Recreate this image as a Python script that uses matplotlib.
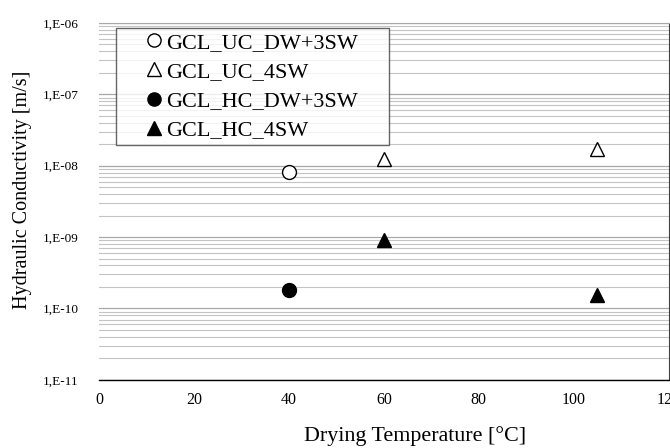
import numpy as np
import matplotlib.pyplot as plt
from matplotlib.ticker import LogLocator, FixedLocator, FuncFormatter, NullFormatter

plt.rcParams['font.family'] = ['Liberation Serif', 'DejaVu Serif']

# datos
temp_uc_dw = [40]
k_uc_dw = [8.2e-9]
temp_uc_4sw = [60, 105]
k_uc_4sw = [1.25e-8, 1.7e-8]
temp_hc_dw = [40]
k_hc_dw = [1.8e-10]
temp_hc_4sw = [60, 105]
k_hc_4sw = [9.0e-10, 1.55e-10]

fig = plt.figure(figsize=(6.7, 4.48), dpi=100)
ax = fig.add_axes([0.148, 0.152, 0.850, 0.797])

ax.plot(temp_uc_dw, k_uc_dw, 'o', ms=10, mfc='white', mec='black', mew=1.0,
        label='GCL_UC_DW+3SW', zorder=5)
ax.plot(temp_uc_4sw, k_uc_4sw, '^', ms=10, mfc='white', mec='black', mew=1.0,
        label='GCL_UC_4SW', zorder=5)
ax.plot(temp_hc_dw, k_hc_dw, 'o', ms=10, mfc='black', mec='black',
        label='GCL_HC_DW+3SW', zorder=5)
ax.plot(temp_hc_4sw, k_hc_4sw, '^', ms=10, mfc='black', mec='black',
        label='GCL_HC_4SW', zorder=5)

ax.set_yscale('log')
ax.set_ylim(1e-11, 1e-6)
ax.set_xlim(0, 120)
ax.xaxis.set_major_locator(FixedLocator([0, 20, 40, 60, 80, 100, 120]))
ax.yaxis.set_major_locator(LogLocator(base=10, numticks=10))
ax.yaxis.set_minor_locator(LogLocator(base=10, subs=np.arange(2, 10), numticks=10))
ax.yaxis.set_minor_formatter(NullFormatter())


def fmt_exp(v, pos):
    e = int(round(np.log10(v)))
    return '1,E-%02d' % abs(e)


ax.yaxis.set_major_formatter(FuncFormatter(fmt_exp))
ax.tick_params(axis='both', which='both', length=0)
ax.tick_params(axis='x', labelsize=11.5, pad=9)
ax.tick_params(axis='y', labelsize=9.5, pad=15)

ax.grid(True, axis='y', which='major', color='#a8a8a8', lw=0.9)
ax.grid(True, axis='y', which='minor', color='#c4c4c4', lw=0.8)
ax.set_axisbelow(True)

ax.spines['left'].set_visible(False)
ax.spines['top'].set_color('#a8a8a8')
ax.spines['right'].set_color('#404040')
ax.spines['bottom'].set_color('black')
ax.spines['bottom'].set_linewidth(1.0)

ax.set_xlabel('Drying Temperature [°C]', fontsize=15.8)
ax.xaxis.set_label_coords(0.555, -0.129)
ax.set_ylabel('Hydraulic Conductivity [m/s]', fontsize=14.5)
ax.yaxis.set_label_coords(-0.118, 0.532)

leg = ax.legend(loc='upper left', bbox_to_anchor=(0.03, 0.5, 0.479, 0.486),
                mode='expand', fontsize=16, frameon=True, fancybox=False,
                edgecolor='#404040', handlelength=3.04, handletextpad=-0.98,
                borderpad=0.2, labelspacing=0.39, markerscale=0.95,
                borderaxespad=0)
leg.get_frame().set_linewidth(1.0)

plt.savefig('out.png', dpi=100)
